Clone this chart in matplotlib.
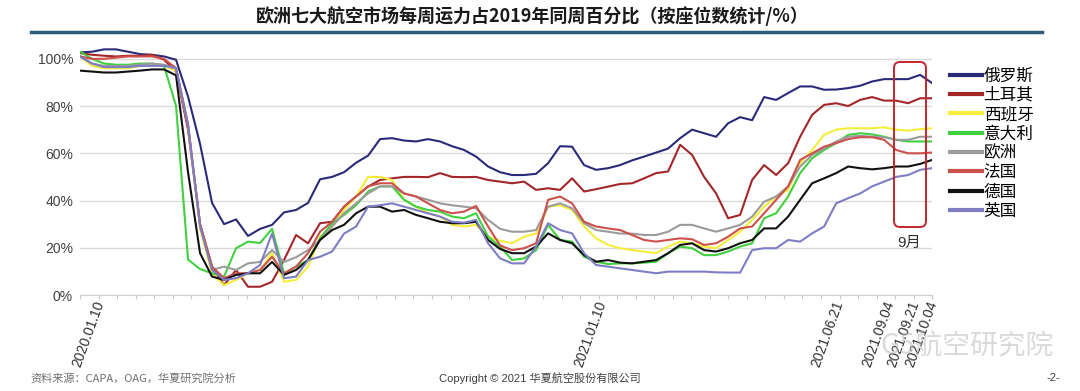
import numpy as np
import matplotlib
matplotlib.use('Agg')
import matplotlib.pyplot as plt
from matplotlib.patches import FancyBboxPatch
from matplotlib.lines import Line2D

plt.rcParams['font.family'] = ['Liberation Sans', 'Noto Sans CJK SC', 'DejaVu Sans']

# weekly capacity vs same week of 2019 (%)
russia = [102.7, 103, 104, 104, 103, 102, 101.7, 101, 99.6, 84, 64, 39, 30, 32, 25, 28, 29.7, 35,
          36, 39, 49, 50, 52, 56, 59, 66, 66.4, 65.4, 65, 66, 65, 63, 61.4, 58.6, 54.4,
          52, 50.8, 50.8, 51.3, 55.8, 63, 62.8, 55, 53, 53.7, 55, 57, 58.6, 60.3, 62, 66.4, 70,
          68.5, 67, 72.7, 75.3, 74, 83.8, 82.6, 85.5, 88.3, 88.3, 86.9, 87, 87.6, 88.6, 90.4,
          91.4, 91.4, 91.4, 93.2, 89.7]
turkey = [102.4, 101.7, 101.3, 101, 101.3, 101.3, 101.7, 99.6, 94.6, 70, 30, 12, 4.2, 10.6, 3.5, 3.5,
          5.6, 14.8, 25.4, 21.9, 30.4, 31, 37.4, 41.7, 45.9, 48.7, 49.4, 50, 50, 49.9, 51.6, 50,
          49.9, 50, 48.7,
          48, 47.3, 48, 44.5, 45.2, 44.5, 49.4, 43.8, 44.8, 45.9, 47, 47.3, 49.4, 51.6, 52.3, 63.6,
          59.3, 50, 43, 32.5, 33.9, 48.7, 55, 50.8, 55.8, 67, 76.3, 80.5, 81.2, 80, 82.6, 83.8,
          82.3, 82.3, 81.2, 83.3, 83.3]
spain = [101, 97, 96, 96, 96, 97, 97, 97, 95, 72, 28, 9, 4.2, 6.4, 9.2, 10.6, 17.7, 5.6, 6.4, 12,
         24.7, 29, 36, 41.7, 50, 50, 48.7, 40.3, 37.4, 34.6, 33.2, 29.7, 29, 29.7, 24.7,
         23, 21.9, 24.7, 26, 37.4, 38, 36, 29, 24, 21.2, 19.8, 19, 18.4, 17.7, 20.5, 22.6, 21.9,
         20.5, 19.8, 23.3, 26.8, 31.8, 37.4, 41.7, 44.5, 55.8, 61.4, 67.8, 70, 70.6, 70.6, 70.6,
         71, 70, 69.6, 70.2, 70.6]
italy = [103, 100, 98, 97.5, 97.5, 98, 98, 97, 80, 15, 11, 9.2, 7.8, 19.8, 22.6, 22, 28, 9.2, 12,
         14.8, 24, 30.4, 33.9, 38, 43.8, 46, 46, 40.3, 37.4, 36, 35.3, 33.2, 32.5, 34.6, 24.7,
         20.5, 14.8, 15.5, 19, 29.7, 23.3, 22.6, 16.2, 14.1, 13.1, 13.4, 13.4, 13.7, 14.1, 17.7,
         20.5, 19.8, 16.9, 16.9, 18.4, 20.5, 21.9, 32.5, 34.6, 41.7, 51.6, 57.9, 61.4, 64.3, 67.8,
         68.5, 68, 67, 65.7, 65, 65, 65]
europe = [101, 98, 97, 97, 97, 97.5, 98, 97.5, 96, 72, 30, 10.6, 12, 10.6, 13.4, 14, 19, 14, 16, 19,
          23.3, 29, 34.6, 38.8, 43, 46, 46, 43, 41.7, 40.3, 38.8, 38, 37.4, 36.7, 31.8,
          28, 26.8, 26.8, 27.5, 37.4, 38.8, 36.7, 30.4, 27.5, 26.8, 26, 26, 25.4, 25.4, 26.8, 29.7,
          29.7, 28.2, 26.8, 28.2, 29.7, 33.2, 39.5, 41.7, 46, 54.4, 59.3, 62, 65, 67, 67.4, 67,
          66.8, 65.7, 65.7, 67, 67]
france = [101, 100, 100, 100.5, 101, 101, 101, 100, 96, 72, 30, 12, 7.1, 9.2, 9.2, 10.6, 16.2, 9.2,
          12, 17.7, 26.8, 31, 37.4, 41.7, 46, 47.3, 47.3, 43, 41.7, 38.8, 36, 34.6, 35.3, 37.7, 29,
          21, 19, 19.8, 21.9, 40.3, 41.7, 38.8, 31, 29, 28.2, 27.5, 25.4, 23.3, 22.6, 23.3, 24,
          23.6, 21.2, 21.9, 24.7, 28.2, 29, 34.6, 40.3, 46, 57.2, 60, 62.8, 64.3, 66, 66.8, 66.8,
          65.7, 61.4, 60, 60, 60.3]
germany = [95, 94.6, 94.2, 94.2, 94.6, 95, 95.5, 95.5, 93, 52, 17.7, 7.8, 6.4, 8.5, 9.2, 9.2, 14,
           8.5, 10.6, 14.8, 23.3, 27.5, 29.7, 34.6, 37.4, 37.4, 35.3, 36, 33.9, 32.5, 31, 30.4,
           30.4, 31, 23.3,
           19.5, 17.7, 17.7, 20.5, 26.1, 23.3, 21.9, 16.9, 14.1, 14.8, 13.7, 13.4, 14.1, 14.8,
           17.7, 21.2, 21.9, 19, 18.4, 19.8, 21.9, 23.3, 28.2, 28.2, 33.2, 40.3, 47.3, 49.4, 51.6,
           54.4, 53.7, 53.2, 53.7, 54.4, 54.4, 55.5, 57.2]
uk = [101, 98, 96.5, 96.5, 96.5, 97, 97, 97, 96, 72, 29, 10.6, 6.4, 7.1, 9.2, 12.7, 26, 7.1, 7.8,
      14.8, 16.2, 18.4, 26, 29, 37.4, 38, 38.8, 37.4, 36, 34.6, 33.2, 31, 30.6, 31.8, 21.9,
      15.5, 13.4, 13.4, 20.5, 30.4, 27.5, 26.1, 17.7, 12.7, 12, 11.3, 10.6, 9.9, 9.2, 9.9, 9.9,
      9.9, 9.9, 9.6, 9.5, 9.5, 19, 19.8, 19.8, 23.3, 22.6, 26.1, 29, 38.8, 41, 43, 46, 48, 50,
      50.8, 53, 53.7]

names = ['俄罗斯', '土耳其', '西班牙', '意大利', '欧洲', '法国', '德国', '英国']
colors = ['#2B2A78', '#A3262A', '#F4EE3A', '#41D03F', '#9B9B9B', '#CC514D', '#111111', '#7F7DC4']
series = [russia, turkey, spain, italy, europe, france, germany, uk]

date_labels = ['2020.01.10', '2021.01.10', '2021.06.21', '2021.09.04', '2021.09.21', '2021.10.04']
date_pos = [1.7, 43.5, 63.3, 67.5, 69.6, 71.1]

fig = plt.figure(figsize=(10.8, 3.91), dpi=100)
ax = fig.add_axes([0.0741, 0.2455, 0.789, 0.6343])

x = np.arange(len(russia))
# draw back to front so the navy/red sit on top like the original
order = [4, 6, 7, 2, 3, 5, 1, 0]
for k in order:
    ax.plot(x, np.array(series[k]) / 100, color=colors[k], lw=1.5, zorder=3 + k * 0.1)

ax.set_xlim(0, len(russia) - 1)
ax.set_ylim(0, 1.05)
ax.set_yticks([0, 0.2, 0.4, 0.6, 0.8, 1.0])
ax.set_yticklabels(['0%', '20%', '40%', '60%', '80%', '100%'], fontsize=10, color='#404040')
ax.yaxis.grid(True, color='#DADADA', lw=1)
ax.set_axisbelow(True)
ax.tick_params(axis='y', length=0, pad=5)

ax.set_xticks(np.linspace(0, len(russia) - 1, 47))
ax.set_xticklabels([])
ax.tick_params(axis='x', length=3, color='#C8C8C8', width=0.8)
for s in ['top', 'right', 'left']:
    ax.spines[s].set_visible(False)
ax.spines['bottom'].set_color('#D0D0D0')

for lab, p in zip(date_labels, date_pos):
    ax.text(p, -0.025, lab, rotation=70, rotation_mode='anchor', ha='right', va='center',
            fontsize=10, color='#303030', transform=ax.get_xaxis_transform())

handles = [Line2D([0], [0], color=c, lw=3) for c in colors]
fig.legend(handles, names, loc='upper left', bbox_to_anchor=(0.866, 0.866), frameon=False,
           handlelength=1.9, handletextpad=0.1, labelspacing=0.14,
           prop={'family': ['Noto Sans CJK SC'], 'size': 12})

# September highlight box
box = FancyBboxPatch((8.94, 1.64), 0.32, 1.65, boxstyle='round,pad=0,rounding_size=0.06',
                     transform=fig.dpi_scale_trans, fill=False, edgecolor='#C0262C', lw=1.4,
                     zorder=10)
fig.patches.append(box)
fig.text(0.842, 0.378, '9月', fontsize=11, color='#303030', ha='center', va='center')

fig.text(0.493, 0.958, '欧洲七大航空市场每周运力占2019年同周百分比（按座位数统计/%）',
         fontsize=13, fontweight='bold', ha='center', va='center', color='#1A1A1A',
         family=['Noto Sans CJK SC'])
fig.add_artist(Line2D([0.029, 0.965], [0.917, 0.917], color='#2F5C78', lw=2.5,
                      transform=fig.transFigure))

fig.text(0.028, 0.033, '资料来源：CAPA，OAG，华夏研究院分析', fontsize=8, color='#707070',
         ha='left', va='center', family=['Noto Sans CJK SC'])
fig.text(0.5, 0.033, 'Copyright © 2021 华夏航空股份有限公司', fontsize=8, color='#404040',
         ha='center', va='center')
fig.text(0.975, 0.033, '-2-', fontsize=8, color='#404040', ha='center', va='center')
fig.text(0.815, 0.115, 'G5航空研究院', fontsize=20, color='#BBBBBB', alpha=0.55,
         ha='left', va='center', family=['Noto Sans CJK SC'])

fig.savefig('out.png', dpi=100)
